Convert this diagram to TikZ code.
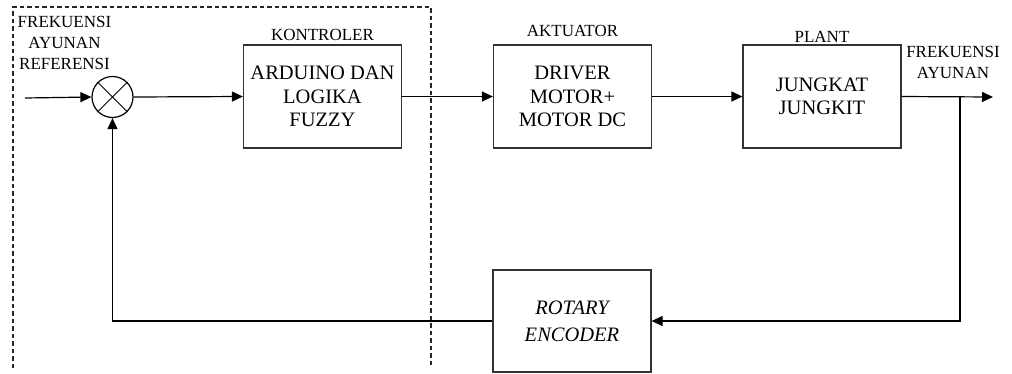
\documentclass[tikz,border=0pt]{standalone}
\usepackage{fontspec}
\setmainfont{Liberation Serif}
\usetikzlibrary{arrows.meta}
\begin{document}
\begin{tikzpicture}[x=1pt,y=-1pt,
  blk/.style={draw=black!80,line width=1.2pt,minimum width=158pt,minimum height=103pt,inner sep=0pt,align=center,font=\fontsize{20.5}{23.5}\selectfont},
  lbl/.style={inner sep=0pt,align=center,font=\fontsize{17}{21}\selectfont},
  conn/.style={line width=1.2pt,-{Triangle[length=11pt,width=10pt]}},
  grp/.style={line width=1.1pt,dash pattern=on 4.5pt off 3pt,black!85}]
\useasboundingbox (0,0) rectangle (1012,373);
% group frame
\draw[grp] (13,368) -- (13,7) -- (431,7) -- (431,368);
% summing junction
\node[draw,circle,line width=1.2pt,minimum size=41pt,inner sep=0pt] (sum) at (112.5,97) {};
\draw[line width=1pt] (sum.45) -- (sum.225) (sum.135) -- (sum.315);
% blocks
\node[blk] (ctl) at (322.5,96.5) {ARDUINO DAN\\LOGIKA\\FUZZY};
\node[blk] (act) at (572.5,96.5) {DRIVER\\MOTOR+\\MOTOR DC};
\node[blk] (plt) at (822,96.5) {JUNGKAT\\JUNGKIT};
\node[blk,minimum height=102pt,font=\fontsize{20.5}{27}\selectfont\itshape] (enc) at (572,321) {ROTARY\\ENCODER};
% labels
\node[lbl] (lref) at (64.5,43) {FREKUENSI\\AYUNAN\\REFERENSI};
\node[lbl,anchor=base] (lctl) at (322.5,40) {KONTROLER};
\node[lbl,anchor=base] (lact) at (572.5,36) {AKTUATOR};
\node[lbl,anchor=base] (lplt) at (822,42) {PLANT};
\node[lbl] (lout) at (953,62) {FREKUENSI\\AYUNAN};
% connectors
\coordinate (in) at (25,98);
\coordinate (out) at (993,97);
\coordinate (br) at (960,97);
\draw[conn] (in) -- (sum.west);
\draw[conn] (sum.east) -- (ctl.west);
\draw[conn] (ctl.east) -- (act.west);
\draw[conn] (act.east) -- (plt.west);
\draw[conn] (plt.east) -- (out);
\draw[conn] (br) |- (enc.east);
\draw[conn] (enc.west) -| (sum.south);
\end{tikzpicture}
\end{document}
